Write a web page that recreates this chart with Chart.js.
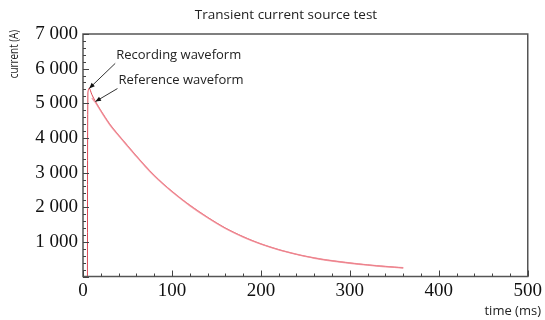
<!DOCTYPE html>
<html>
<head>
<meta charset="utf-8">
<script src="https://cdn.jsdelivr.net/npm/chart.js@4.4.0/dist/chart.umd.min.js"></script>
<style>
  html, body { margin: 0; padding: 0; background: #fff; }
  #wrap { width: 545px; height: 320px; }
</style>
</head>
<body>
<div id="wrap"><canvas id="transient"></canvas></div>
<script>
// values (time in ms, current in A)
const recTime = [5, 5.5, 7, 10, 14, 20, 30, 40, 50, 60, 70, 80, 90, 100, 110, 120, 130, 140, 150, 160, 170, 180, 190, 200,
  210, 220, 230, 240, 250, 260, 270, 280, 290, 300, 310, 320, 330, 340, 350, 360]
const recCurrent = [0, 5300, 5440, 5250, 5050, 4790, 4400, 4080, 3780, 3480, 3190, 2920, 2680, 2460, 2250, 2060, 1880, 1710, 1550, 1400, 1270, 1150, 1040, 940,
  855, 775, 705, 640, 585, 535, 490, 455, 420, 390, 360, 335, 310, 290, 270, 250]
const refTime = [10, 14, 20, 30, 40, 50, 60, 70, 80, 90, 100, 120, 140, 160, 180, 200, 220, 240, 260, 280, 300, 320, 340, 360]
const refCurrent = [5150, 5030, 4780, 4390, 4070, 3770, 3470, 3180, 2910, 2670, 2450, 2050, 1700, 1390, 1140, 935, 770, 640, 530, 450, 385, 330, 285, 248]

const xTicks = [0, 100, 200, 300, 400, 500]
const yTicks = [1000, 2000, 3000, 4000, 5000, 6000, 7000]

const labels = [
  { text: 'Recording waveform', at: [7, 5430] },
  { text: 'Reference waveform', at: [14, 5050] },
]

const toXY = (xs, ys) => xs.map((x, i) => ({ x: x, y: ys[i] }))

// frame, inward ticks, axis titles and arrow labels
const decor = {
  id: 'decor',
  afterDraw(chart) {
    const { ctx, chartArea: a, scales: { x, y } } = chart
    ctx.save()
    ctx.strokeStyle = '#555'
    ctx.lineWidth = 1.5
    ctx.strokeRect(a.left, a.top, a.right - a.left, a.bottom - a.top)

    ctx.lineWidth = 1
    ctx.strokeStyle = '#444'
    ctx.beginPath()
    for (let v = 0; v <= 500; v += 20) {
      const px = Math.round(x.getPixelForValue(v)) + 0.5
      const len = v % 100 === 0 ? 6 : 3
      ctx.moveTo(px, a.bottom)
      ctx.lineTo(px, a.bottom - len)
    }
    for (let v = 0; v <= 7000; v += 200) {
      const py = Math.round(y.getPixelForValue(v)) + 0.5
      const len = v % 1000 === 0 ? 6 : 3
      ctx.moveTo(a.left, py)
      ctx.lineTo(a.left + len, py)
    }
    ctx.stroke()

    ctx.fillStyle = '#222'
    ctx.font = '13px "Open Sans"'
    ctx.textAlign = 'right'
    ctx.textBaseline = 'middle'
    ctx.fillText('time (ms)', 541, 311)

    // y axis title sits near the top, like the original
    ctx.font = '12px "Open Sans"'
    ctx.translate(15, 54)
    ctx.rotate(-Math.PI / 2)
    ctx.scale(0.82, 1)
    ctx.textAlign = 'center'
    ctx.fillText('current (A)', 0, 0)
    ctx.restore()

    ctx.save()
    ctx.font = '13px "Open Sans"'
    ctx.strokeStyle = '#333'
    ctx.textBaseline = 'middle'
    labels.forEach((l, i) => {
      const tx = x.getPixelForValue(l.at[0])
      const ty = y.getPixelForValue(l.at[1])
      const sx = tx + (i === 0 ? 26 : 22)
      const sy = ty - (i === 0 ? 25 : 13)
      ctx.lineWidth = 1
      ctx.beginPath()
      ctx.moveTo(sx, sy)
      ctx.lineTo(tx, ty)
      ctx.stroke()
      // arrow head
      const ang = Math.atan2(ty - sy, tx - sx)
      ctx.beginPath()
      ctx.moveTo(tx, ty)
      ctx.lineTo(tx - 6 * Math.cos(ang - 0.4), ty - 6 * Math.sin(ang - 0.4))
      ctx.lineTo(tx - 6 * Math.cos(ang + 0.4), ty - 6 * Math.sin(ang + 0.4))
      ctx.closePath()
      ctx.fillStyle = '#111'
      ctx.fill()
      ctx.fillStyle = '#222'
      ctx.fillText(l.text, sx + 1, sy - 8)
    })
    ctx.restore()
  }
}

const ctxTransient = document.getElementById('transient')
window.myChart = new Chart(ctxTransient, {
  type: 'line',
  data: {
    datasets: [
      {
        label: 'Reference waveform',
        data: toXY(refTime, refCurrent),
        borderColor: 'rgba(240,140,150,0.8)',
        borderWidth: 1.6,
        pointRadius: 0,
        tension: 0.3,
      },
      {
        label: 'Recording waveform',
        data: toXY(recTime, recCurrent),
        borderColor: 'rgba(215,40,55,0.85)',
        borderWidth: 1,
        pointRadius: 0,
        tension: 0.3,
      },
    ],
  },
  options: {
    responsive: true,
    maintainAspectRatio: false,
    animation: false,
    layout: { padding: { left: 27, right: 0, top: 0, bottom: 0 } },
    plugins: {
      legend: { display: false },
      tooltip: { enabled: false },
      title: {
        display: true,
        text: 'Transient current source test',
        color: '#222',
        font: { family: '"Open Sans"', size: 13.5, weight: 'normal' },
        padding: { top: 7, bottom: 10.8 },
      },
    },
    scales: {
      x: {
        type: 'linear',
        min: 0,
        max: 500,
        afterBuildTicks: s => { s.ticks = xTicks.map(v => ({ value: v })) },
        afterFit: s => { s.height = 43.5 },
        grid: { display: false, drawTicks: false },
        border: { display: false },
        ticks: {
          color: '#111',
          padding: 3,
          maxRotation: 0,
          font: { family: '"Liberation Serif"', size: 19 },
          callback: v => String(v),
        },
      },
      y: {
        min: 0,
        max: 7000,
        afterBuildTicks: s => { s.ticks = yTicks.map(v => ({ value: v })) },
        afterFit: s => { s.width = 56 },
        grid: { display: false, drawTicks: false },
        border: { display: false },
        ticks: {
          color: '#111',
          padding: 5,
          font: { family: '"Liberation Serif"', size: 19 },
          callback: v => String(v).replace(/(\d)(\d{3})$/, '$1 $2'),
        },
      },
    },
  },
  plugins: [decor],
})
</script>
</body>
</html>
